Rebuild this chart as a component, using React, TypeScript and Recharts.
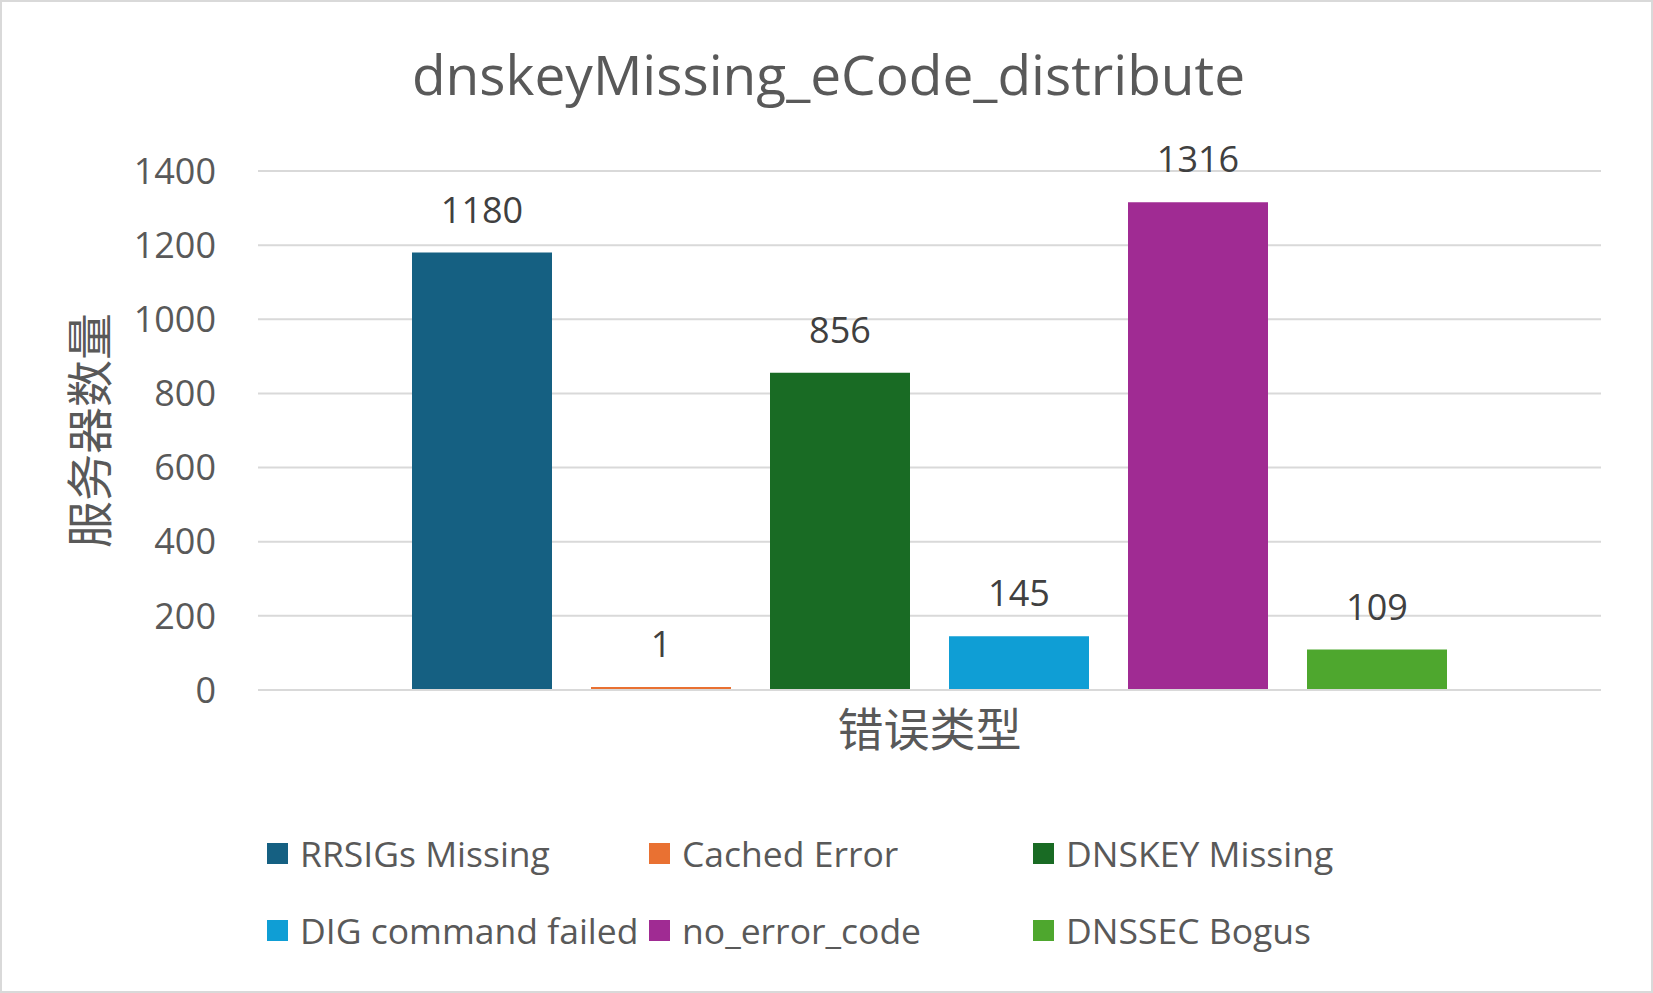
import React from 'react';
import {
  BarChart,
  Bar,
  XAxis,
  YAxis,
  CartesianGrid,
  Legend,
  LabelList
} from 'recharts';

const seriesNames = [
  'RRSIGs Missing',
  'Cached Error',
  'DNSKEY Missing',
  'DIG command failed',
  'no_error_code',
  'DNSSEC Bogus'
];
const seriesValues = [1180, 1, 856, 145, 1316, 109];
const seriesColors = ['#156082', '#E97132', '#196B24', '#0F9ED5', '#A02B93', '#4EA72E'];
const yTicks = [0, 200, 400, 600, 800, 1000, 1200, 1400];
const categories = [''];

const W = 1653;
const H = 993;
const FONT = '"Open Sans", "Noto Sans CJK SC", sans-serif';

const chartData = categories.map(name => {
  const row: Record<string, string | number> = { name };
  seriesNames.forEach((s, i) => {
    row[s] = seriesValues[i];
  });
  return row;
});

const LegendGrid = () => (
  <div style={{ position: 'relative', width: W, height: 160, fontFamily: FONT }}>
    {seriesNames.map((s, i) => {
      const col = i % 3;
      const row = Math.floor(i / 3);
      const lefts = [267, 649, 1033];
      return (
        <div
          key={s}
          style={{
            position: 'absolute',
            left: lefts[col],
            top: row * 77 - 1,
            height: 40,
            display: 'flex',
            alignItems: 'center',
            whiteSpace: 'nowrap'
          }}
        >
          <span style={{ width: 21, height: 21, background: seriesColors[i], marginRight: 12 }} />
          <span style={{ fontSize: 35.5, color: '#595959' }}>{s}</span>
        </div>
      );
    })}
  </div>
);

export default function App() {
  return (
    <div
      style={{
        position: 'absolute',
        left: 0,
        top: 0,
        width: W,
        height: H,
        border: '2px solid #d9d9d9',
        boxSizing: 'border-box',
        background: '#fff',
        fontFamily: FONT
      }}
    >
      <div
        style={{
          position: 'absolute',
          left: 0,
          width: W,
          top: 36,
          textAlign: 'center',
          fontSize: 55,
          color: '#595959',
          lineHeight: '72px'
        }}
      >
        dnskeyMissing_eCode_distribute
      </div>
      <div style={{ position: 'absolute', left: -2, top: -2 }}>
        <BarChart
          width={W}
          height={H}
          data={chartData}
          margin={{ top: 171, right: 52, left: 0, bottom: 33 }}
          barCategoryGap={154}
          barGap={39}
        >
          <CartesianGrid vertical={false} stroke="#d9d9d9" strokeWidth={2} />
          <XAxis
            dataKey="name"
            tick={false}
            tickLine={false}
            axisLine={{ stroke: '#d9d9d9', strokeWidth: 2 }}
            height={110}
            label={{
              value: '错误类型',
              position: 'insideTop',
              offset: 23,
              style: { fontSize: 46, fill: '#595959', fontFamily: FONT }
            }}
          />
          <YAxis
            width={258}
            domain={[0, 1400]}
            ticks={yTicks}
            tickLine={false}
            axisLine={false}
            tickSize={0}
            tickMargin={42}
            tick={{ fontSize: 36, fill: '#595959', fontFamily: FONT }}
            label={{
              value: '服务器数量',
              angle: -90,
              position: 'insideLeft',
              offset: 90,
              style: { fontSize: 47, fill: '#595959', textAnchor: 'middle', fontFamily: FONT }
            }}
          />
          <Legend
            content={() => <LegendGrid />}
            wrapperStyle={{ top: 834, left: 0, bottom: 'auto' }}
          />
          {seriesNames.map((s, i) => (
            <Bar
              key={s}
              dataKey={s}
              fill={seriesColors[i]}
              minPointSize={3}
              isAnimationActive={false}
            >
              <LabelList
                dataKey={s}
                position="top"
                offset={30}
                style={{ fontSize: 36, fill: '#404040', fontFamily: FONT }}
              />
            </Bar>
          ))}
        </BarChart>
      </div>
    </div>
  );
}
